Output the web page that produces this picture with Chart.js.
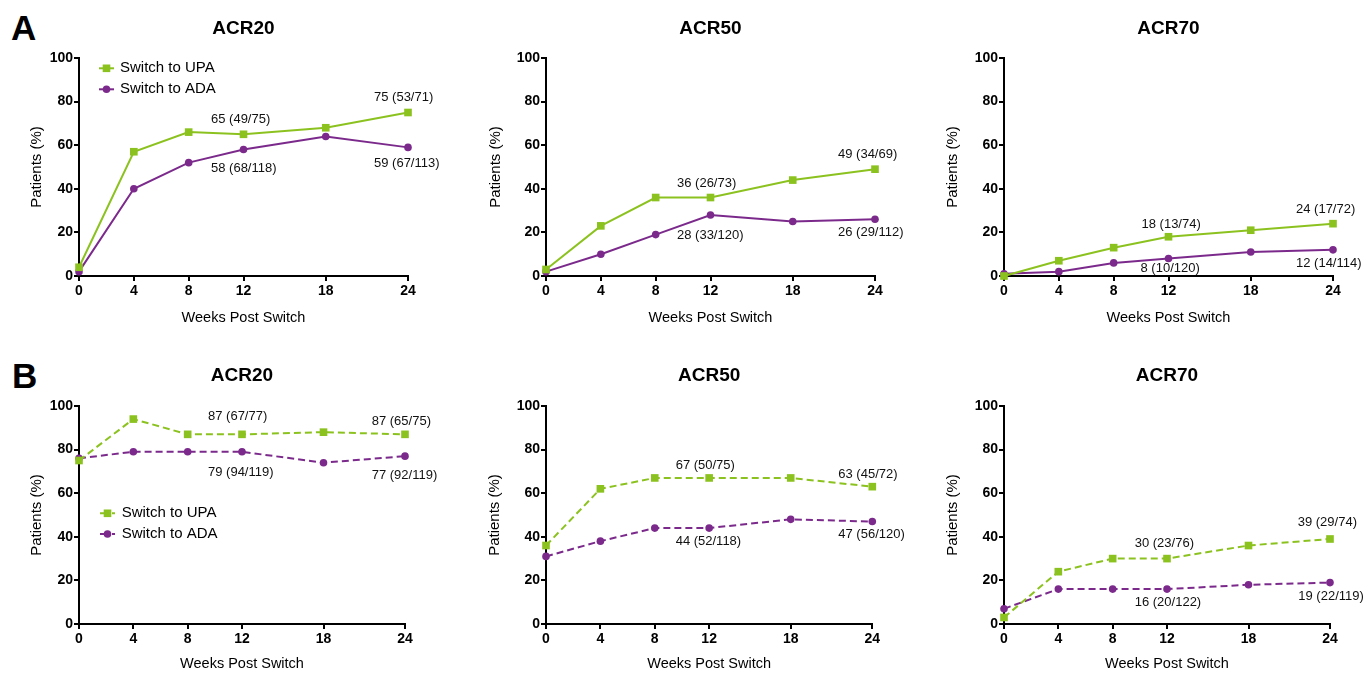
<!DOCTYPE html>
<html><head><meta charset="utf-8">
<script src="https://cdn.jsdelivr.net/npm/chart.js@4.4.1/dist/chart.umd.min.js"></script>
<style>
html,body{margin:0;padding:0;background:#fff}
body{width:1370px;height:673px;position:relative;overflow:hidden;font-family:"Liberation Sans",Arial,sans-serif}
canvas{position:absolute}
.letter{position:absolute;font-weight:bold;font-size:35px;line-height:35px;color:#000}
</style></head>
<body>
<div class="letter" style="left:11px;top:10px">A</div>
<div class="letter" style="left:12px;top:358px">B</div>
<script>
// ---------- DATA ----------
const weeks = [0, 4, 8, 12, 18, 24];
const seriesNames = ['Switch to UPA', 'Switch to ADA'];
const panelTitles = ['ACR20', 'ACR50', 'ACR70'];
const xAxisTitle = 'Weeks Post Switch';
const yAxisTitle = 'Patients (%)';
const rowLetters = ['A', 'B'];

// Row A (solid)
const aAcr20Upa = [4, 57, 66, 65, 68, 75];
const aAcr20Ada = [2, 40, 52, 58, 64, 59];
const aAcr50Upa = [3, 23, 36, 36, 44, 49];
const aAcr50Ada = [2, 10, 19, 28, 25, 26];
const aAcr70Upa = [0, 7, 13, 18, 21, 24];
const aAcr70Ada = [1, 2, 6, 8, 11, 12];
// Row B (dashed)
const bAcr20Upa = [75, 94, 87, 87, 88, 87];
const bAcr20Ada = [76, 79, 79, 79, 74, 77];
const bAcr50Upa = [36, 62, 67, 67, 67, 63];
const bAcr50Ada = [31, 38, 44, 44, 48, 47];
const bAcr70Upa = [3, 24, 30, 30, 36, 39];
const bAcr70Ada = [7, 16, 16, 16, 18, 19];

// Annotation texts: [UPA wk12, UPA wk24, ADA wk12, ADA wk24]
const aAcr20Notes = ['65 (49/75)', '75 (53/71)', '58 (68/118)', '59 (67/113)'];
const aAcr50Notes = ['36 (26/73)', '49 (34/69)', '28 (33/120)', '26 (29/112)'];
const aAcr70Notes = ['18 (13/74)', '24 (17/72)', '8 (10/120)', '12 (14/114)'];
const bAcr20Notes = ['87 (67/77)', '87 (65/75)', '79 (94/119)', '77 (92/119)'];
const bAcr50Notes = ['67 (50/75)', '63 (45/72)', '44 (52/118)', '47 (56/120)'];
const bAcr70Notes = ['30 (23/76)', '39 (29/74)', '16 (20/122)', '19 (22/119)'];
const noteWeeks = [12, 24, 12, 24];
const noteSeries = [0, 0, 1, 1];

// ---------- STYLE / LAYOUT ----------
const FONT = '"Liberation Sans", Arial, sans-serif';
Chart.defaults.font.family = FONT;
const GREEN = '#8cc21f';
const PURPLE = '#7b2a8c';

const panels = [
  { title: panelTitles[0], upa: aAcr20Upa, ada: aAcr20Ada, notes: aAcr20Notes, dashed: false,
    cv: {l: 0, t: 0, w: 460, h: 340}, ch: {l: 79, r: 408, t: 58, b: 276}, yTitleX: 36.5, titleY: 28.3, xTitleY: 318.3,
    off: [[-32.5, -15], [-34, -15.5], [-32.5, 18.5], [-34, 16.5]],
    legend: {x: 99, textX: 120, y: [68.3, 89.3]} },
  { title: panelTitles[1], upa: aAcr50Upa, ada: aAcr50Ada, notes: aAcr50Notes, dashed: false,
    cv: {l: 460, t: 0, w: 450, h: 340}, ch: {l: 546, r: 875, t: 58, b: 276}, yTitleX: 495.5, titleY: 28.3, xTitleY: 318.3,
    off: [[-33.5, -14.5], [-37, -15], [-33.5, 20], [-37, 13.4]] },
  { title: panelTitles[2], upa: aAcr70Upa, ada: aAcr70Ada, notes: aAcr70Notes, dashed: false,
    cv: {l: 910, t: 0, w: 460, h: 340}, ch: {l: 1004, r: 1333, t: 58, b: 276}, yTitleX: 952.5, titleY: 28.3, xTitleY: 318.3,
    off: [[-27, -12.5], [-37, -14.4], [-28, 9.7], [-37, 13.5]] },
  { title: panelTitles[0], upa: bAcr20Upa, ada: bAcr20Ada, notes: bAcr20Notes, dashed: true,
    cv: {l: 0, t: 340, w: 460, h: 333}, ch: {l: 79, r: 405, t: 406, b: 624}, yTitleX: 36.7, titleY: 376, xTitleY: 665,
    off: [[-34, -17.6], [-33.3, -12.6], [-34, 20.5], [-33.3, 19]],
    legend: {x: 100, textX: 121.7, y: [513.3, 534]} },
  { title: panelTitles[1], upa: bAcr50Upa, ada: bAcr50Ada, notes: bAcr50Notes, dashed: true,
    cv: {l: 460, t: 340, w: 450, h: 333}, ch: {l: 546, r: 872.3, t: 406, b: 624}, yTitleX: 495, titleY: 376, xTitleY: 665,
    off: [[-33.5, -12.3], [-34, -12.4], [-33.5, 13.2], [-34, 12.8]] },
  { title: panelTitles[2], upa: bAcr70Upa, ada: bAcr70Ada, notes: bAcr70Notes, dashed: true,
    cv: {l: 910, t: 340, w: 460, h: 333}, ch: {l: 1004, r: 1330, t: 406, b: 624}, yTitleX: 953, titleY: 376, xTitleY: 665,
    off: [[-32.3, -15.3], [-32.3, -16.3], [-32.3, 13.2], [-31.7, 13.4]] }
];

const decor = {
  id: 'decor',
  afterDatasetsDraw(chart, args, opts) {
    const p = opts.panel;
    const ctx = chart.ctx;
    const ox = p.cv.l, oy = p.cv.t;
    const xs = chart.scales.x, ys = chart.scales.y;
    const ca = chart.chartArea;
    ctx.save();
    ctx.fillStyle = '#000';
    ctx.textBaseline = 'middle';
    // panel title
    ctx.font = 'bold 19px ' + FONT;
    ctx.textAlign = 'center';
    ctx.fillText(p.title, (ca.left + ca.right) / 2, p.titleY - oy);
    // value annotations
    ctx.font = '13px ' + FONT;
    ctx.textAlign = 'left';
    ctx.fillStyle = '#111';
    const vals = [p.upa, p.ada];
    p.notes.forEach((txt, k) => {
      const w = noteWeeks[k];
      const v = vals[noteSeries[k]][weeks.indexOf(w)];
      const px = xs.getPixelForValue(w), py = ys.getPixelForValue(v);
      ctx.fillText(txt, px + p.off[k][0], py + p.off[k][1]);
    });
    // legend
    if (p.legend) {
      const L = p.legend;
      ctx.font = '15px ' + FONT;
      [GREEN, PURPLE].forEach((col, k) => {
        const y = L.y[k] - oy, x = L.x - ox;
        ctx.strokeStyle = col; ctx.fillStyle = col; ctx.lineWidth = 2;
        ctx.setLineDash(p.dashed ? [4, 2] : []);
        ctx.beginPath(); ctx.moveTo(x, y); ctx.lineTo(x + 15, y); ctx.stroke();
        ctx.setLineDash([]);
        if (k === 0) { ctx.fillRect(x + 7.5 - 3.8, y - 3.8, 7.6, 7.6); }
        else { ctx.beginPath(); ctx.arc(x + 7.5, y, 3.8, 0, Math.PI * 2); ctx.fill(); }
        ctx.fillStyle = '#000';
        ctx.fillText(seriesNames[k], L.textX - ox, y);
      });
    }
    ctx.restore();
  }
};

panels.forEach((p, idx) => {
  const c = document.createElement('canvas');
  c.width = p.cv.w; c.height = p.cv.h;
  c.style.left = p.cv.l + 'px'; c.style.top = p.cv.t + 'px';
  c.style.width = p.cv.w + 'px'; c.style.height = p.cv.h + 'px';
  document.body.appendChild(c);
  const dash = p.dashed ? [7, 4] : [];
  const mk = vals => weeks.map((w, i) => ({x: w, y: vals[i]}));
  new Chart(c.getContext('2d'), {
    type: 'line',
    data: {
      datasets: [
        { label: seriesNames[0], data: mk(p.upa), borderColor: GREEN, backgroundColor: GREEN,
          borderWidth: 2, borderDash: dash, pointStyle: 'rect', pointRadius: 5.4, pointBorderWidth: 0,
          pointHoverRadius: 5.4, tension: 0, clip: false },
        { label: seriesNames[1], data: mk(p.ada), borderColor: PURPLE, backgroundColor: PURPLE,
          borderWidth: 2, borderDash: dash, pointStyle: 'circle', pointRadius: 3.8, pointBorderWidth: 0,
          pointHoverRadius: 3.8, tension: 0, clip: false }
      ]
    },
    options: {
      responsive: false, animation: false, devicePixelRatio: 1,
      layout: { padding: { left: 0, top: p.ch.t - p.cv.t, right: p.cv.l + p.cv.w - p.ch.r, bottom: 0 } },
      plugins: { legend: { display: false }, tooltip: { enabled: false }, title: { display: false },
                 decor: { panel: p } },
      scales: {
        x: {
          type: 'linear', min: 0, max: 24,
          afterBuildTicks: s => { s.ticks = weeks.map(v => ({ value: v })); },
          afterFit: s => { s.height = p.cv.t + p.cv.h - p.ch.b; },
          ticks: { color: '#000', font: { size: 14, weight: 'bold' }, padding: 2, maxRotation: 0, autoSkip: false },
          grid: { display: true, drawOnChartArea: false, drawTicks: true, tickLength: 5, color: '#000', lineWidth: 2 },
          border: { display: true, color: '#000', width: 2 },
          title: { display: true, text: xAxisTitle, color: '#000', font: { size: 14.5 },
                   padding: { top: 0, bottom: Math.max(0, p.cv.t + p.cv.h - p.xTitleY - 8.7) } }
        },
        y: {
          min: 0, max: 100,
          afterFit: s => { s.width = p.ch.l - p.cv.l; },
          ticks: { stepSize: 20, color: '#000', font: { size: 14, weight: 'bold' }, padding: 1 },
          grid: { display: true, drawOnChartArea: false, drawTicks: true, tickLength: 5, color: '#000', lineWidth: 2 },
          border: { display: true, color: '#000', width: 2 },
          title: { display: true, text: yAxisTitle, color: '#000', font: { size: 15 },
                   padding: { top: p.yTitleX - p.cv.l - 9, bottom: 0 } }
        }
      }
    },
    plugins: [decor]
  });
});
</script>
</body></html>
